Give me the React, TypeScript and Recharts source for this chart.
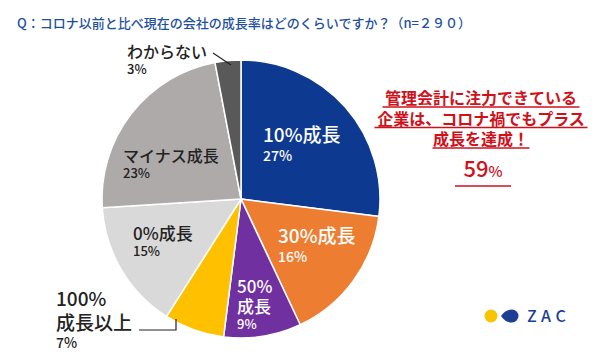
import { PieChart, Pie, Cell } from 'recharts';

document.body.style.margin = '0';

const names = ['10%成長', '30%成長', '50%成長', '100%成長以上', '0%成長', 'マイナス成長', 'わからない'];
const values = [27, 16, 9, 7, 15, 23, 3];
const colors = ['#0d3a90', '#ed7d31', '#7030a0', '#ffc000', '#d9d9d9', '#aeaaaa', '#595959'];

const data = names.map((name, i) => ({ name, value: values[i] }));

const FONT = '"Noto Sans CJK JP", "Noto Sans", sans-serif';

// label layout per slice: anchor x, colour, lines as [text, size, baseline y]
const labelLayout = [
  { x: 263, fill: '#fff', lines: [['10%成長', 19, 142], ['27%', 14, 161]] },
  { x: 278, fill: '#fff', lines: [['30%成長', 19, 243], ['16%', 14, 262]] },
  { x: 237, fill: '#fff', lines: [['50%', 17, 293], ['成長', 17, 313], ['9%', 13, 329]] },
  { x: 56, fill: '#222', lines: [['100%', 19, 306], ['成長以上', 19, 330], ['7%', 14, 348]] },
  { x: 133, fill: '#222', lines: [['0%成長', 17, 240], ['15%', 13, 256]] },
  { x: 123, fill: '#222', lines: [['マイナス成長', 16, 162], ['23%', 13, 178]] },
  { x: 127, fill: '#222', lines: [['わからない', 16, 58], ['3%', 13, 74]] },
];

const renderLabel = (props: any) => {
  const l = labelLayout[props.index];
  return (
    <g key={`lbl-${props.index}`}>
      {l.lines.map(([t, s, y], j) => (
        <text key={j} x={l.x} y={y as number} fill={l.fill} fontSize={s as number} fontFamily={FONT} fontWeight={500}>
          {t}
        </text>
      ))}
    </g>
  );
};

const redLines = ['管理会計に注力できている', '企業は、コロナ禍でもプラス', '成長を達成！'];
const redWidths = [197, 213, 97];

export default function App() {
  return (
    <div style={{ position: 'relative', width: 600, height: 359, background: '#fff' }}>
      <PieChart
        width={600}
        height={359}
        margin={{ top: 0, right: 0, bottom: 0, left: 0 }}
        style={{ position: 'absolute', left: 0, top: 0 }}
      >
        <Pie
          data={data}
          dataKey="value"
          cx={241}
          cy={199}
          outerRadius={139}
          startAngle={90}
          endAngle={-270}
          stroke="#fff"
          strokeWidth={1.5}
          label={renderLabel}
          labelLine={false}
          isAnimationActive={false}
        >
          {data.map((d, i) => (
            <Cell key={d.name} fill={colors[i]} />
          ))}
        </Pie>
      </PieChart>
      <svg width={600} height={359} style={{ position: 'absolute', left: 0, top: 0, pointerEvents: 'none' }}>
        <text x={17} y={28} fill="#1e50a2" fontSize={13} fontFamily={FONT} fontWeight={500}>
          Q：コロナ以前と比べ現在の会社の成長率はどのくらいですか？（n=２９０）
        </text>
        {/* leader lines */}
        <polyline points="139,330 176,330 176,319" fill="none" stroke="#222" strokeWidth={1.2} />
        <line x1={213} y1={53} x2={231} y2={65} stroke="#222" strokeWidth={1.2} />
        {/* callout */}
        {redLines.map((t, i) => (
          <g key={t}>
            <text
              x={481}
              y={104 + i * 20.5}
              textAnchor="middle"
              fill="#d0111b"
              fontSize={16}
              fontWeight={700}
              fontFamily={FONT}
            >
              {t}
            </text>
            <line
              x1={481 - redWidths[i] / 2}
              x2={481 + redWidths[i] / 2}
              y1={107 + i * 20.5}
              y2={107 + i * 20.5}
              stroke="#d0111b"
              strokeWidth={1.3}
            />
          </g>
        ))}
        <text x={483} y={177} textAnchor="middle" fill="#d0111b" fontFamily={FONT} fontWeight={500}>
          <tspan fontSize={22}>59</tspan>
          <tspan fontSize={15}>%</tspan>
        </text>
        <line x1={455} x2={511} y1={186} y2={186} stroke="#d0111b" strokeWidth={1.5} />
        {/* ZAC logo */}
        <circle cx={491} cy={316} r={6.5} fill="#f6c400" />
        <path d="M501,316 Q505,309.5 512,309.5 A6.5,6.5 0 1 1 512,322.5 Q505,322.5 501,316 Z" fill="#1c3f94" />
        <text x={527} y={322} fill="#1c3f94" fontSize={16} fontWeight={500} fontFamily={FONT} letterSpacing={4.5}>
          ZAC
        </text>
      </svg>
    </div>
  );
}
